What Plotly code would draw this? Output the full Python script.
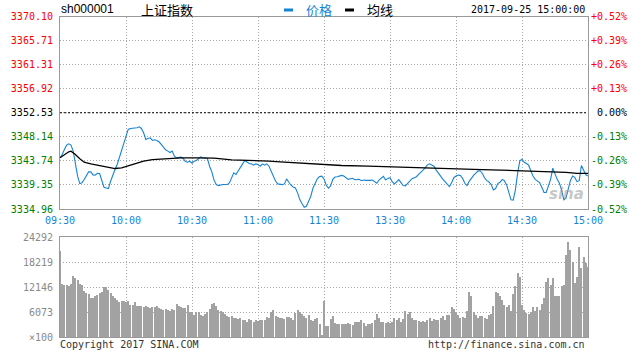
import plotly.graph_objects as go

W, H = 641, 352

# ---------------- data ----------------
prev_close = 3352.53
price_ticks = [3334.96, 3339.35, 3343.74, 3348.14, 3352.53, 3356.92, 3361.31, 3365.71, 3370.10]
time_ticks = [0, 30, 60, 90, 120, 150, 180, 210, 240]
time_labels = ["09:30", "10:00", "10:30", "11:00", "11:30", "13:30", "14:00", "14:30", "15:00"]
vol_ticks = [0, 6073, 12146, 18219, 24292]
vol_labels = ["×100", "6073", "12146", "18219", "24292"]

minutes = list(range(241))

price = [
    3344.30, 3344.91, 3345.82, 3346.62, 3346.86, 3346.62, 3345.52, 3343.08, 3340.95, 3339.60,
    3339.73, 3340.34, 3340.95, 3341.74, 3341.74, 3341.19, 3341.13, 3341.49, 3341.43, 3340.15,
    3338.93, 3338.81, 3338.69, 3340.03, 3341.25, 3342.17, 3343.08, 3344.42, 3345.82, 3347.04,
    3348.45, 3349.48, 3349.66, 3349.66, 3349.66, 3349.79, 3349.97, 3349.66, 3348.87, 3347.65,
    3347.84, 3347.96, 3347.47, 3347.59, 3347.47, 3347.23, 3346.74, 3346.19, 3345.76, 3345.52,
    3345.27, 3345.52, 3344.60, 3344.30, 3344.42, 3344.42, 3344.18, 3343.63, 3343.51, 3343.69,
    3343.32, 3343.69, 3343.81, 3344.12, 3344.48, 3344.30, 3344.30, 3344.18, 3342.77, 3341.74,
    3340.28, 3339.42, 3339.24, 3339.36, 3339.42, 3339.42, 3339.42, 3339.73, 3340.64, 3341.56,
    3341.25, 3341.98, 3342.59, 3343.20, 3343.81, 3343.57, 3343.26, 3343.20, 3342.96, 3343.20,
    3343.08, 3342.77, 3343.20, 3342.96, 3343.20, 3342.77, 3341.86, 3340.76, 3340.03, 3339.54,
    3339.42, 3339.42, 3339.54, 3340.46, 3339.85, 3339.30, 3338.99, 3338.81, 3337.90, 3336.68,
    3335.95, 3335.28, 3335.46, 3336.25, 3337.29, 3338.81, 3339.73, 3340.52, 3340.89, 3340.95,
    3340.45, 3339.35, 3338.75, 3339.17, 3340.37, 3340.79, 3340.85, 3340.97, 3341.09, 3340.97,
    3340.67, 3340.37, 3340.49, 3340.55, 3340.31, 3340.31, 3340.37, 3340.13, 3340.25, 3340.19,
    3340.13, 3340.19, 3340.25, 3339.95, 3339.65, 3340.25, 3340.55, 3340.91, 3340.25, 3340.55,
    3340.67, 3339.95, 3339.53, 3339.89, 3340.31, 3339.77, 3339.23, 3339.17, 3339.59, 3340.07,
    3340.49, 3340.67, 3340.85, 3341.27, 3341.58, 3342.06, 3342.48, 3343.02, 3343.20, 3342.96,
    3342.78, 3342.06, 3341.39, 3340.97, 3340.43, 3340.01, 3339.47, 3339.05, 3339.77, 3340.67,
    3340.97, 3341.15, 3341.09, 3340.55, 3339.65, 3339.23, 3340.01, 3340.61, 3341.09, 3341.51,
    3341.88, 3341.94, 3341.45, 3340.61, 3340.13, 3339.89, 3339.41, 3338.45, 3338.69, 3339.59,
    3339.83, 3340.37, 3340.13, 3339.35, 3338.15, 3336.64, 3336.58, 3338.45, 3341.45, 3343.74,
    3344.04, 3343.50, 3343.26, 3342.96, 3341.94, 3340.97, 3340.37, 3340.07, 3339.77, 3338.93,
    3337.97, 3337.97, 3339.05, 3340.37, 3342.42, 3341.33, 3340.37, 3339.65, 3338.45, 3336.64,
    3336.94, 3338.57, 3340.13, 3340.97, 3340.73, 3339.95, 3340.13, 3342.90, 3341.94, 3341.21,
    3340.97,
]

avg_minutes = [0, 2, 4, 5, 7, 9, 11, 14, 18, 22, 25, 28, 31, 34, 38, 42, 48, 55, 62, 70,
               78, 90, 95, 100, 108, 115, 120, 128, 140, 148, 160, 168, 180, 188, 196, 204,
               210, 218, 225, 230, 235, 240]
avg_price = [3344.30, 3344.91, 3345.40, 3345.52, 3344.91, 3344.12, 3343.51, 3343.20, 3342.90,
             3342.47, 3342.35, 3342.47, 3342.84, 3343.26, 3343.69, 3343.99, 3344.18, 3344.30,
             3344.30, 3344.24, 3343.93, 3343.81, 3343.69, 3343.57, 3343.39, 3343.20, 3343.02,
             3342.90, 3342.78, 3342.66, 3342.54, 3342.42, 3342.30, 3342.18, 3342.12, 3342.00,
             3341.94, 3341.88, 3341.76, 3341.64, 3341.46, 3341.46]

volume = [
    20970, 12870, 12630, 12630, 12300, 12870, 14820, 14410, 13850, 12790,
    12550, 11170, 10690, 10450, 9550, 9310, 9800, 10040, 10530, 11010,
    12150, 12150, 11420, 10530, 9800, 9470, 8990, 8340, 8660, 8660,
    8500, 8660, 7770, 7770, 8340, 7530, 7530, 7530, 7290, 7530,
    7290, 6960, 7290, 7290, 7530, 7050, 6640, 6400, 6640, 6480,
    6150, 6640, 6480, 8020, 7530, 7290, 6960, 6880, 7610, 5990,
    6070, 5340, 5990, 5990, 5300, 5100, 5430, 5910, 6720, 7940,
    8260, 7530, 6560, 6320, 5910, 5510, 4940, 4860, 5100, 4620,
    4620, 4290, 4450, 4130, 4130, 3640, 4370, 4050, 3640, 4130,
    3890, 4050, 3970, 4130, 4860, 4450, 6070, 6560, 5100, 4860,
    4450, 4450, 4370, 4860, 4860, 4620, 4130, 5830, 6560, 6070,
    5590, 5100, 4620, 5340, 4130, 3810, 4370, 4450, 3000, 490,
    8740, 2670, 2510, 4290, 5100, 3240, 3080, 3160, 3160, 3160,
    3080, 3320, 3160, 2920, 3480, 3640, 3480, 4130, 3320, 2670,
    3000, 3160, 3320, 4130, 5430, 4620, 3640, 3480, 3320, 3480,
    3320, 3640, 4620, 4130, 4620, 3640, 4290, 6320, 5590, 5910,
    4450, 4130, 3970, 3890, 3640, 3810, 3640, 4050, 4620, 3810,
    4290, 4130, 3970, 4530, 4940, 4130, 5180, 5340, 7210, 6800,
    5990, 5340, 4450, 4700, 4530, 6150, 10850, 9960, 5990, 5180,
    4530, 5100, 4940, 4530, 4290, 5340, 5590, 7530, 10930, 10690,
    9960, 8990, 7770, 7130, 7770, 6320, 10450, 12390, 15470, 14490,
    7770, 6560, 5750, 5510, 5990, 7210, 6320, 7210, 6560, 8020,
    9550, 13440, 14250, 12630, 14250, 9800, 9800, 9800, 12390, 12630,
    19920, 23160, 21130, 18140, 13200, 14660, 21940, 16840, 19510, 18000,
    17000,
]

# ---------------- styles ----------------
BLUE = "#1684d4"
RED = "#ff0000"
GREEN = "#008000"
GRID = "#a8a8a8"
FRAME = "#999999"
MONO = "DejaVu Sans Mono"
CJK = "Noto Sans CJK SC"


def px_x(x):
    return x / W


def px_y(y):
    return 1 - y / H


def col_for(v):
    if abs(v - prev_close) < 1e-6:
        return "#000000"
    return RED if v > prev_close else GREEN


left_text = [f'<span style="color:{col_for(v)}">{v:.2f}</span>' for v in price_ticks]
pct_ticks = [(v - prev_close) / prev_close * 100 for v in price_ticks]
right_text = []
for v, p in zip(price_ticks, pct_ticks):
    s = "\u00a00.00%" if abs(p) < 1e-9 else f"{p:+.2f}%"
    right_text.append(f'<span style="color:{col_for(v)}">{s}</span>')

lo, hi = price_ticks[0], price_ticks[-1]

fig = go.Figure()
fig.add_trace(go.Scatter(x=minutes, y=price, mode="lines",
                         line=dict(color=BLUE, width=1.1), xaxis="x", yaxis="y",
                         hoverinfo="skip"))
fig.add_trace(go.Scatter(x=avg_minutes, y=avg_price, mode="lines",
                         line=dict(color="#000000", width=1.3), xaxis="x", yaxis="y",
                         hoverinfo="skip"))
fig.add_trace(go.Scatter(x=[], y=[], xaxis="x", yaxis="y2", hoverinfo="skip"))
fig.add_trace(go.Bar(x=minutes, y=volume, width=0.42,
                     marker=dict(color="#a2a2a2", line=dict(width=0)),
                     xaxis="x2", yaxis="y3", hoverinfo="skip"))

xdom = [px_x(60), px_x(588)]
axis_common = dict(showline=True, mirror=True, linecolor=FRAME, linewidth=1,
                   zeroline=False, ticks="", showgrid=True, gridcolor=GRID,
                   gridwidth=1, griddash="1px,2px", automargin=False)

fig.update_layout(
    width=W, height=H, autosize=False,
    margin=dict(l=0, r=0, t=0, b=0, autoexpand=False),
    paper_bgcolor="#ffffff", plot_bgcolor="#ffffff",
    showlegend=False,
    xaxis=dict(domain=xdom, anchor="y", range=[0, 240], tickmode="array",
               tickvals=time_ticks, ticktext=time_labels, ticklabelstandoff=2,
               tickfont=dict(family=MONO, size=10, color=BLUE), **axis_common),
    yaxis=dict(domain=[px_y(209), px_y(16.5)], anchor="x", range=[lo, hi],
               tickmode="array", tickvals=price_ticks, ticktext=left_text,
               ticklabelstandoff=4,
               tickfont=dict(family=MONO, size=10), **axis_common),
    yaxis2=dict(overlaying="y", anchor="x", side="right", range=[pct_ticks[0], pct_ticks[-1]],
                tickmode="array", tickvals=pct_ticks, ticktext=right_text,
                ticklabelstandoff=2, automargin=False,
                tickfont=dict(family=MONO, size=10), showgrid=False, zeroline=False,
                showline=False, ticks=""),
    xaxis2=dict(domain=xdom, anchor="y3", range=[0, 240], tickmode="array",
                tickvals=time_ticks, showticklabels=False, **axis_common),
    yaxis3=dict(domain=[px_y(337), px_y(237.3)], anchor="x2", range=[0, vol_ticks[-1]],
                tickmode="array", tickvals=vol_ticks, ticktext=vol_labels,
                ticklabelstandoff=4,
                tickfont=dict(family=MONO, size=10, color="#8a8a8a"), **axis_common),
    bargap=0,
)

fig.add_shape(type="line", xref="x", yref="y", x0=0, x1=240, y0=prev_close, y1=prev_close,
              line=dict(color="#000000", width=1, dash="2px,2px"))

# legend marks
fig.add_shape(type="rect", xref="paper", yref="paper", x0=px_x(284), x1=px_x(293),
              y0=px_y(11.5), y1=px_y(8.5), fillcolor=BLUE, line=dict(width=0))
fig.add_shape(type="rect", xref="paper", yref="paper", x0=px_x(345), x1=px_x(354),
              y0=px_y(11.5), y1=px_y(8.5), fillcolor="#000000", line=dict(width=0))

ann = [
    dict(text="sh000001", x=px_x(59), y=px_y(9.5), xanchor="left",
         font=dict(family="Liberation Sans", size=12, color="#000000")),
    dict(text="上证指数", x=px_x(139), y=px_y(9.5), xanchor="left",
         font=dict(family=CJK, size=13, color="#000000")),
    dict(text="价格", x=px_x(304), y=px_y(9.5), xanchor="left",
         font=dict(family=CJK, size=13, color=BLUE)),
    dict(text="均线", x=px_x(365), y=px_y(9.5), xanchor="left",
         font=dict(family=CJK, size=13, color="#000000")),
    dict(text="2017-09-25 15:00:00", x=px_x(587), y=px_y(9.5), xanchor="right",
         font=dict(family=MONO, size=10, color="#000000")),
    dict(text="Copyright 2017 SINA.COM", x=px_x(58), y=px_y(344), xanchor="left",
         font=dict(family=MONO, size=10, color="#333333")),
    dict(text="http://finance.sina.com.cn", x=px_x(587), y=px_y(344), xanchor="right",
         font=dict(family=MONO, size=10, color="#333333")),
    dict(text="<b><i>sina</i></b>", x=px_x(566), y=px_y(194), xanchor="center",
         font=dict(family="DejaVu Sans", size=15, color="rgba(150,150,150,0.55)")),
]
for a in ann:
    fig.add_annotation(xref="paper", yref="paper", yanchor="middle", showarrow=False, **a)

fig.write_html("out.html")
